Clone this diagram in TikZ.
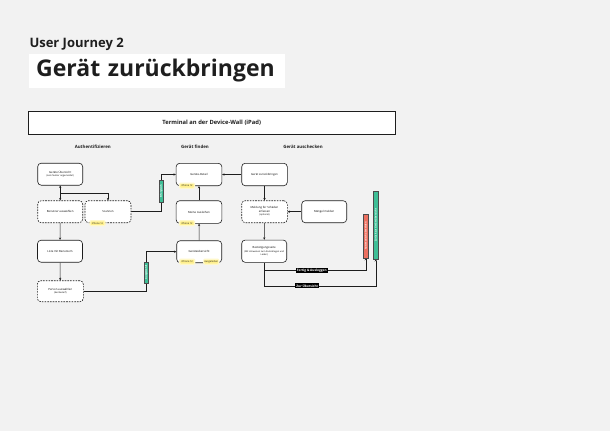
\documentclass[tikz,border=0pt]{standalone}
\usepackage{fontspec}
\setmainfont{Open Sans}
\usetikzlibrary{backgrounds,arrows.meta}
\definecolor{bg}{RGB}{242,242,242}
\definecolor{badgegreen}{RGB}{62,190,150}
\definecolor{badgered}{RGB}{236,112,96}
\definecolor{sticky}{RGB}{255,240,140}
\definecolor{stickyglow}{RGB}{255,248,200}
\definecolor{ink}{RGB}{30,30,30}
\pgfdeclarelayer{canvas}
\pgfdeclarelayer{background}
\pgfsetlayers{canvas,background,main}
\begin{document}
\begin{tikzpicture}[x=1pt,y=-1pt,
  box/.style={draw=ink, rounded corners=3.5pt, fill=white, line width=0.6pt,
    minimum width=45pt, minimum height=22pt, align=center,
    font=\fontsize{2.8}{3.5}\selectfont, inner sep=1pt},
  dbox/.style={box, dash pattern=on 1.6pt off 1.1pt},
  conn/.style={draw=ink, line width=0.6pt},
  arr/.style={conn, -{Stealth[length=2.4pt,width=2.2pt]}},
  badge/.style={draw=ink!80, line width=0.35pt, inner sep=0pt, text=white,
    font=\bfseries\fontsize{2.4}{2.8}\selectfont},
  stick/.style={fill=sticky, draw=stickyglow, line width=1.2pt, rounded corners=1pt,
    inner sep=0.5pt, minimum width=15pt, minimum height=5pt,
    font=\fontsize{2.4}{2.8}\selectfont, text=ink},
  tag/.style={fill=black, text=white, inner xsep=1.2pt, inner ysep=0.8pt,
    font=\bfseries\fontsize{3.2}{3.6}\selectfont},
  section/.style={font=\bfseries\fontsize{4.4}{5}\selectfont, text=ink}
]
\begin{pgfonlayer}{canvas}
\useasboundingbox[fill=bg] (0,0) rectangle (610,431);
\end{pgfonlayer}

% titles
\node[anchor=west, font=\bfseries\fontsize{13}{15}\selectfont, text=ink, inner sep=0pt] (t1) at (29.3,44) {User Journey 2};
\node[fill=white, anchor=west, text width=241.3pt, inner xsep=7.7pt, inner ysep=0pt,
  minimum height=33.4pt, align=left, font=\bfseries\fontsize{23}{27}\selectfont, text=ink] (t2) at (28.3,71) {Gerät zurückbringen};

% header
\node[draw=ink, fill=white, line width=0.8pt, minimum width=366.7pt, minimum height=22.6pt,
  inner sep=0pt, font=\bfseries\fontsize{5.8}{7}\selectfont, text=ink] (hdr) at (211.7,123) {Terminal an der Device-Wall (iPad)};

\node[section] (s1) at (92.8,146.7) {Authentifizieren};
\node[section] (s2) at (195,146.7) {Gerät finden};
\node[section] (s3) at (303,146.7) {Gerät auschecken};

% boxes
\node[box] (ueb) at (60.2,174.2) {Geräte Übersicht\\[-0.3pt]{\fontsize{2.3}{3}\selectfont(kein Nutzer angemeldet)}};
\node[dbox] (ben) at (60.2,211.7) {Benutzer auswählen};
\node[dbox, minimum width=46pt] (scan) at (108,211.7) {Scannen};
\node[box] (liste) at (60,251.2) {Liste mit Benutzern};
\node[dbox, minimum width=46pt, minimum height=21pt] (person) at (60.3,291.2) {Person auswählen\\[-0.3pt]{\fontsize{2.3}{3}\selectfont(bei Bedarf)}};

\node[box, minimum width=45.7pt, minimum height=22.4pt] (detail) at (199,174.5) {Geräte-Detail};
\node[box, minimum width=45.7pt, minimum height=22.6pt] (ausl) at (199,212) {Meine Ausleihen};
\node[box] (gue) at (199.2,251.7) {Geräteübersicht};

\node[box, minimum width=45.6pt, minimum height=22.4pt] (zur) at (264.5,174.5) {Gerät zurückbringen};
\node[dbox, minimum width=45.6pt] (meld) at (264.5,211.7) {Meldung für Schäden\\erfassen\\{\fontsize{2.3}{3}\selectfont(optional)}};
\node[box] (maen) at (324.2,211.7) {Mängel melden};
\node[box, minimum height=22.3pt] (best) at (264.2,251.2) {Bestätigungsseite\\{\fontsize{2.3}{3}\selectfont(Mit Hinweisen zum Zurücklegen und}\\{\fontsize{2.3}{3}\selectfont Laden)}};

% badges
\node[badge, fill=badgegreen, minimum width=4.5pt, minimum height=21.5pt] (b1) at (161.2,191) {\rotatebox{90}{Erfolgreich}};
\node[badge, fill=badgegreen, minimum width=4.3pt, minimum height=21pt] (b2) at (146.2,272.2) {\rotatebox{90}{Ausgewählt}};
\node[badge, fill=badgered, minimum width=5pt, minimum height=43.4pt] (b3) at (365.8,236) {\rotatebox{90}{Automatisch abmelden}};
\node[badge, fill=badgegreen, minimum width=5pt, minimum height=67.3pt] (b4) at (375.8,225.3) {\rotatebox{90}{Zurück zur Geräteübersicht}};

% stickies
\node[stick] (y1) at (97.5,223.3) {iPhone 12};
\node[stick] (y2) at (187,185.8) {iPhone 12};
\node[stick] (y3) at (187,223.2) {iPhone 12};
\node[stick] (y4) at (187.2,261.7) {iPhone 12};
\node[stick] (y5) at (211.3,261.7) {Ausgeliehen};

% tags
\node[tag] (tg1) at (311.8,270.2) {Fertig \& Ausloggen};
\node[tag] (tg2) at (307.2,285.7) {Zur Übersicht};

% connectors
\begin{pgfonlayer}{background}
\coordinate (j1) at (60.2,193.3);
\draw[arr, {Stealth[length=2.4pt,width=2.2pt]}-{Stealth[length=2.4pt,width=2.2pt]}] (ueb) -- (ben);
\draw[arr] (j1) -| (scan.north);
\draw[arr] (ben) -- (liste);
\draw[arr] (liste) -- (person);
\draw[conn] (person.east) -| (b2.center);
\draw[arr] (b2.center) |- (gue.west);
\draw[conn] (scan.east) -| (b1.center);
\draw[arr] (b1.center) |- (detail.west);
\draw[arr] (ausl) -- (detail);
\draw[arr] (gue) -- (ausl);
\draw[conn] (y4) -- (y5);
\draw[arr] (zur) -- (detail);
\draw[arr] (zur) -- (meld);
\draw[arr] (maen) -- (meld);
\draw[arr] (meld) -- (best);
\draw[arr] (best.south) -- ++(0,7.7) -| (b3.south);
\draw[arr] (best.south) -- ++(0,23.4) -| (b4.south);
\end{pgfonlayer}
\end{tikzpicture}
\end{document}
